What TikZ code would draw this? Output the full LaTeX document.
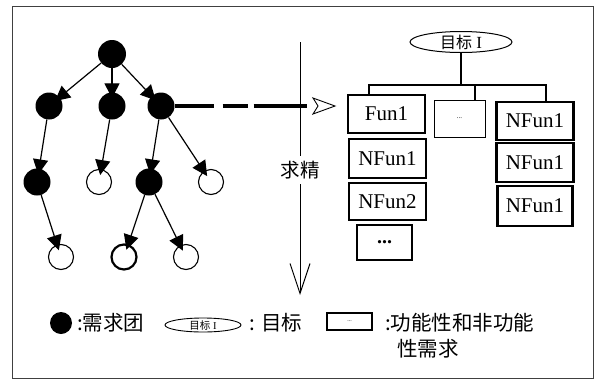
\documentclass[tikz,border=0pt]{standalone}
\usepackage{fontspec}
\setmainfont{Liberation Serif}
\newfontfamily\cjk{Noto Sans CJK SC}
\usetikzlibrary{arrows.meta,shapes.geometric}
\begin{document}
\begin{tikzpicture}[x=1pt,y=-1pt,
  full/.style={circle,fill=black,minimum size=27pt,inner sep=0pt},
  hollow/.style={circle,draw,line width=1.1pt,fill=white,minimum size=25pt,inner sep=0pt},
  edge/.style={line width=1.2pt,-{Triangle[length=15pt,width=15pt]},shorten >=-6pt},
  req/.style={draw,line width=2.2pt,minimum width=77pt,minimum height=38pt,inner sep=0pt,
    font=\fontsize{21}{21}\selectfont},
  tree/.style={line width=2.8pt},
  lbl/.style={font=\cjk\fontsize{20.5}{20.5}\selectfont,inner sep=0pt}
]
\useasboundingbox (0,0) rectangle (597,381);
\draw[black!75,line width=0.8pt] (12,6) rectangle (593,378);

% requirement clusters
\node[full,minimum size=28pt] (r) at (112,54) {};
\node[full] (a) at (49,106) {};
\node[full] (b) at (112,106) {};
\node[full] (c) at (161,106) {};
\node[full] (d) at (37,182) {};
\node[hollow] (e) at (99,182) {};
\node[full] (f) at (149,182) {};
\node[hollow] (g) at (211,182) {};
\node[hollow] (h) at (61,257) {};
\node[hollow,line width=2.2pt] (i) at (124,257) {};
\node[hollow] (j) at (186,257) {};
\foreach \s/\t in {r/a,r/b,r/c,a/d,b/e,c/f,c/g,d/h,f/i,f/j}
  \draw[edge] (\s) -- (\t);

% link to the goal
\coordinate (dend) at (307,106);
\draw[line width=4pt,dash pattern=on 39pt off 9pt on 25pt off 6pt on 90pt off 0pt]
  (c) -- (c -| dend);
\coordinate (otip) at (335,106);
\draw[line width=0.9pt,fill=white] (otip) -- ++(-22,-8) -- ++(5,8) -- ++(-5,8) -- cycle;

% refinement arrow
\coordinate (rt) at (300,42);
\coordinate (rb) at (300,295);
\node[lbl,font=\cjk\fontsize{19.5}{19.5}\selectfont,inner sep=5pt] (qj) at (300,170) {求精};
\draw[line width=1pt] (rt) -- (qj);
\draw[line width=1pt,-{Straight Barb[length=30pt,width=20pt]}] (qj) -- (rb);

% goal and its requirements
\node[ellipse,draw,line width=1pt,minimum width=102pt,minimum height=21pt,inner sep=0pt,
  font=\fontsize{17}{17}\selectfont]
  (goal) at (461,42) {{\cjk\fontsize{16}{16}\selectfont 目标} I};
\node[req] (fun1) at (386.5,114) {Fun1};
\node[req,minimum height=39pt] (nl1) at (387.5,158.5) {NFun1};
\node[req,minimum height=37pt] (nl2) at (387.5,201.5) {NFun2};
\node[req,minimum width=55pt,minimum height=35pt] (more) at (384.5,242.5)
  {\fontsize{20}{20}\selectfont\textbf{...}};
\node[draw,line width=1pt,minimum width=51pt,minimum height=37pt,inner sep=0pt] (mid)
  at (459.5,118.5) {\fontsize{7}{7}\selectfont ...};
\node[req] (nr1) at (535,121) {NFun1};
\node[req,minimum height=39pt] (nr2) at (535,162.5) {NFun1};
\node[req,minimum width=75pt,minimum height=40pt] (nr3) at (535,206) {NFun1};

\coordinate (dl) at (369,85);
\coordinate (dm) at (475,85);
\coordinate (dr) at (546,85);
\draw[tree] (goal) -- (goal |- dl);
\draw[tree,line cap=rect] (dl) -- (dr);
\draw[tree] (dl) -- (dl |- fun1.north);
\draw[tree] (dm) -- (dm |- mid.north);
\draw[tree] (dr) -- (dr |- nr1.north);

% legend
\node[full,minimum size=22pt] (k1) at (61,323) {};
\node[lbl,anchor=west] (t1) at (77,323) {:需求团};
\node[ellipse,draw,line width=0.9pt,minimum width=76pt,minimum height=14pt,inner sep=0pt,
  font=\fontsize{10.5}{10.5}\selectfont]
  (k2) at (203,325) {{\cjk 目标} I};
\node[lbl,anchor=west] (t2) at (249,323) {: 目标};
\node[draw,line width=1.2pt,minimum width=45pt,minimum height=17pt,inner sep=0pt]
  (k3) at (349.5,321.5) {\fontsize{6}{6}\selectfont ...};
\node[lbl,anchor=west] (t3) at (385,323) {:功能性和非功能};
\node[lbl,anchor=west] (t4) at (397,349) {性需求};
\end{tikzpicture}
\end{document}
